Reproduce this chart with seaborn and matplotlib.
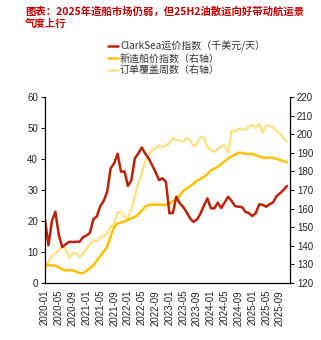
import numpy as np
import pandas as pd
import matplotlib
matplotlib.use("Agg")
import matplotlib.pyplot as plt
import seaborn as sns

months = pd.date_range("2020-01-01", periods=71, freq="MS").strftime("%Y-%m").tolist()

clarksea = [20.3, 12.2, 20.0, 23.0, 15.4, 11.6, 12.5, 13.3, 13.2, 13.3,
            13.3, 14.8, 15.3, 16.2, 20.6, 21.5, 24.8, 26.5, 29.5, 37.0,
            38.6, 41.7, 35.9, 36.0, 31.3, 33.2, 40.2, 41.8, 43.7, 41.8,
            40.2, 38.0, 35.8, 33.2, 33.8, 32.6, 22.5, 22.6, 27.8, 25.7,
            24.5, 22.8, 20.8, 19.7, 20.5, 22.4, 25.0, 27.3, 24.1, 24.1,
            25.9, 24.2, 26.0, 27.8, 26.5, 24.8, 24.6, 24.5, 23.0, 22.5,
            21.6, 22.6, 25.4, 25.2, 24.6, 25.4, 26.0, 28.0, 28.9, 30.0,
            31.3]

newbuild = [130.1, 129.5, 129.5, 129.2, 128.5, 127.2, 126.8, 126.8, 126.8, 126.2,
            125.3, 125.3, 126.5, 128.0, 129.5, 132.0, 134.5, 137.0, 139.5, 145.0,
            150.0, 152.0, 152.6, 153.0, 154.0, 154.7, 155.5, 157.0, 159.0, 161.0,
            162.0, 162.0, 162.2, 162.2, 162.0, 162.0, 162.5, 164.0, 165.5, 167.0,
            169.5, 170.8, 172.0, 173.5, 175.0, 176.0, 177.0, 178.5, 180.5, 181.5,
            182.5, 184.0, 185.5, 187.0, 188.0, 189.0, 190.0, 190.0, 189.5, 189.3,
            189.5, 188.7, 188.0, 187.5, 187.2, 187.5, 187.2, 186.7, 186.2, 185.5,
            185.0]

cover_weeks = [127.0, 131.5, 134.5, 136.0, 137.5, 139.5, 138.0, 133.5, 136.0, 136.0,
               134.0, 135.5, 138.5, 141.0, 143.0, 142.5, 144.5, 145.0, 147.0, 150.0,
               152.0, 158.0, 158.0, 155.5, 155.0, 160.0, 166.5, 173.5, 179.0, 185.5,
               189.0, 191.5, 192.5, 194.0, 193.0, 194.0, 195.0, 198.0, 197.0, 196.5,
               196.0, 198.0, 196.5, 193.5, 195.0, 198.5, 198.0, 193.0, 191.5, 190.5,
               192.0, 193.7, 194.0, 190.0, 202.0, 201.5, 203.0, 202.8, 202.4, 204.0,
               205.0, 203.3, 205.6, 200.6, 205.0, 204.5, 203.5, 201.5, 200.5, 197.5,
               196.0]

labels = ["ClarkSea运价指数（千美元/天）", "新造船价指数（右轴）", "订单覆盖周数（右轴）"]
title = "图表：2025年造船市场仍弱，但25H2油散运向好带动航运景\n气度上行"

sns.set_theme(style="white")
plt.rcParams["font.family"] = ["Liberation Sans", "Noto Sans CJK SC", "DejaVu Sans"]
plt.rcParams["axes.unicode_minus"] = False

df = pd.DataFrame({"i": np.arange(len(months)), "clarksea": clarksea,
                   "newbuild": newbuild, "cover": cover_weeks})

fig = plt.figure(figsize=(3.21, 3.40), dpi=100)
ax = fig.add_axes([45/321, 1-283/340, 245/321, 186/340])
ax2 = ax.twinx()

c_red = "#C0200A"
c_orange = "#FFC000"
c_light = "#FBE38A"

sns.lineplot(data=df, x="i", y="cover", ax=ax2, color=c_light, linewidth=1.8, label=labels[2], legend=False)
sns.lineplot(data=df, x="i", y="newbuild", ax=ax2, color=c_orange, linewidth=1.8, label=labels[1], legend=False)
sns.lineplot(data=df, x="i", y="clarksea", ax=ax, color=c_red, linewidth=1.8, label=labels[0], legend=False)
ax.set_zorder(ax2.get_zorder() + 1)
ax.patch.set_visible(False)

ax.set_xlim(0, 70.9)
ax.set_ylim(0, 60)
ax2.set_ylim(120, 220)
ax.set_yticks(range(0, 61, 10))
ax2.set_yticks(range(120, 221, 10))
xt = list(range(0, len(months), 4))
ax.set_xticks(xt)
ax.set_xticklabels([months[k] for k in xt], rotation=90, fontsize=7, color="#222222")
ax.tick_params(axis="y", labelsize=7, colors="#222222", length=3, width=0.8, direction="out", pad=2)
ax2.tick_params(axis="y", labelsize=7, colors="#222222", length=3, width=0.8, direction="out", pad=2)
ax.tick_params(axis="x", length=3, width=0.8, direction="out", pad=2, colors="#222222")
ax.set_xlabel("")
ax.set_ylabel("")
ax2.set_ylabel("")

for a in (ax, ax2):
    a.spines["top"].set_visible(False)
    for s in ("left", "right", "bottom"):
        a.spines[s].set_color("#000000")
        a.spines[s].set_linewidth(0.9)
ax.spines["right"].set_visible(False)
ax2.spines["left"].set_visible(False)
ax2.spines["bottom"].set_visible(False)

h1, l1 = ax.get_legend_handles_labels()
h2, l2 = ax2.get_legend_handles_labels()
handles = h1 + h2[::-1]
labs = l1 + l2[::-1]
fig.legend(handles, labs, loc="upper left", bbox_to_anchor=(108/321, 1-41/340),
           frameon=False, handlelength=1.0, handletextpad=0.2,
           labelspacing=0.15, borderaxespad=0, borderpad=0,
           prop={"family": ["Noto Sans CJK SC", "DejaVu Sans"], "size": 7.2})
for t in fig.legends[0].get_texts():
    t.set_color("#333333")

fig.text(25/321, 1-6/340, title, ha="left", va="top", fontsize=7.45,
         color="#C00000", fontweight="bold", linespacing=1.3,
         family=["Noto Sans CJK SC", "DejaVu Sans"])

fig.savefig("out.png", dpi=100)
